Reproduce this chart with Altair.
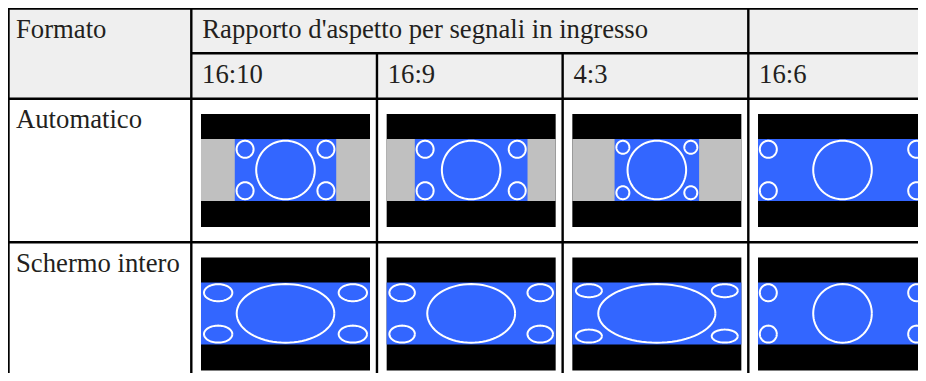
import altair as alt
import numpy as np
import pandas as pd

# ---------------- data ----------------
row_header = "Formato"
group_header = "Rapporto d'aspetto per segnali in ingresso"
formats = ["Automatico", "Schermo intero"]
aspect_labels = ["16:10", "16:9", "4:3", "16:6"]
aspect_num = [16, 16, 4, 16]
aspect_den = [10, 9, 3, 6]
corner_outer = [9.5, 9.5, 7.5, 9.5]   # corner-circle radius in the source picture

# ---------------- layout ----------------
X0, X1 = 8, 918
Y0, Y1 = 8, 373
LINE_W = 2.4
OUT_L = 8.5
OUT_T = 8.5
COL_LINE_0 = 191.3
COL_STEP = 185.67
HEAD1_Y = 53.3
HEAD2_Y = 98.8
ROW_LINE_Y = 242.2
FRAME_W = 169
FRAME_H = 113
BAND_H = 25
PIC_H = 62
PIC_UNIT = 63.4
BIG_R = 29.3
STROKE = 2
FONT = "Liberation Serif"
FS = 26.7
TXT = "#231f20"
HEAD_BG = "#efefef"
GREY = "#c0c0c0"
BLUE = "#3366ff"

col_lines = [COL_LINE_0 + i * COL_STEP for i in range(len(aspect_labels))]
row_tops = [HEAD2_Y, ROW_LINE_Y]

# ---------------- build tables ----------------
frames, greys, blues, ell = [], [], [], []
eid = 0
for r, fmt in enumerate(formats):
    fy = row_tops[r] + 15.2
    py0 = fy + BAND_H
    py1 = py0 + PIC_H
    for c, lab in enumerate(aspect_labels):
        fx = col_lines[c] + 9.7
        frames.append(dict(x=fx, x2=fx + FRAME_W, y=fy, y2=fy + FRAME_H))
        pw = min(PIC_UNIT * aspect_num[c] / aspect_den[c], FRAME_W)
        if r == 0:
            left = fx + (FRAME_W - pw) / 2
            sx = 1.0
            greys.append(dict(x=fx, x2=fx + FRAME_W, y=py0, y2=py1))
        else:
            left = fx
            sx = FRAME_W / pw
        blues.append(dict(x=left, x2=left + pw * sx, y=py0, y2=py1))
        cr = corner_outer[c] - STROKE / 2
        off = corner_outer[c] + 0.8
        circles = [(pw / 2, PIC_H / 2, BIG_R),
                   (off, off, cr), (pw - off, off, cr),
                   (off, PIC_H - off, cr), (pw - off, PIC_H - off, cr)]
        for (cx, cy, rr) in circles:
            t = np.linspace(0, 2 * np.pi, 73)
            for i, tt in enumerate(t):
                ell.append(dict(id=eid, i=i,
                                x=left + cx * sx + rr * sx * np.cos(tt),
                                y=py0 + cy + rr * np.sin(tt)))
            eid += 1

header_bg = pd.DataFrame([dict(x=X0, x2=X1, y=Y0, y2=HEAD2_Y)])

rules = [
    dict(x=X0 - 1, x2=X1 + 8, y=OUT_T, y2=OUT_T),
    dict(x=OUT_L, x2=OUT_L, y=Y0 - 1, y2=Y1 + 8),
    dict(x=col_lines[0], x2=X1 + 8, y=HEAD1_Y, y2=HEAD1_Y),
    dict(x=X0 - 1, x2=X1 + 8, y=HEAD2_Y, y2=HEAD2_Y),
    dict(x=X0 - 1, x2=X1 + 8, y=ROW_LINE_Y, y2=ROW_LINE_Y),
    dict(x=col_lines[0], x2=col_lines[0], y=Y0 - 1, y2=Y1 + 8),
    dict(x=col_lines[1], x2=col_lines[1], y=HEAD1_Y, y2=Y1 + 8),
    dict(x=col_lines[2], x2=col_lines[2], y=HEAD1_Y, y2=Y1 + 8),
    dict(x=col_lines[3], x2=col_lines[3], y=Y0 - 1, y2=Y1 + 8),
]

texts = [dict(label=row_header, x=16, y=37.7),
         dict(label=group_header, x=col_lines[0] + 11, y=38.0)]
for c, lab in enumerate(aspect_labels):
    texts.append(dict(label=lab, x=col_lines[c] + 10.8, y=82.7))
for r, fmt in enumerate(formats):
    texts.append(dict(label=fmt, x=16, y=row_tops[r] + 29.3))

# ---------------- encodings ----------------
xs = alt.Scale(domain=[X0, X1], nice=False, zero=False)
ys = alt.Scale(domain=[Y0, Y1], nice=False, zero=False, reverse=True)


def rect_layer(df, color):
    return alt.Chart(pd.DataFrame(df)).mark_rect(color=color, strokeWidth=0).encode(
        x=alt.X("x:Q", scale=xs, axis=None), x2="x2:Q",
        y=alt.Y("y:Q", scale=ys, axis=None), y2="y2:Q")


bg = rect_layer(header_bg, HEAD_BG)
fr = rect_layer(frames, "#000000")
gr = rect_layer(greys, GREY)
bl = rect_layer(blues, BLUE)

el = alt.Chart(pd.DataFrame(ell)).mark_line(color="#ffffff", strokeWidth=STROKE).encode(
    x=alt.X("x:Q", scale=xs, axis=None),
    y=alt.Y("y:Q", scale=ys, axis=None),
    detail="id:N", order="i:Q")

ru = alt.Chart(pd.DataFrame(rules)).mark_rule(color="#000000", strokeWidth=LINE_W).encode(
    x=alt.X("x:Q", scale=xs, axis=None), x2="x2:Q",
    y=alt.Y("y:Q", scale=ys, axis=None), y2="y2:Q")

tx = alt.Chart(pd.DataFrame(texts)).mark_text(
    align="left", baseline="alphabetic", font=FONT, fontSize=FS, color=TXT).encode(
    x=alt.X("x:Q", scale=xs, axis=None),
    y=alt.Y("y:Q", scale=ys, axis=None),
    text="label:N")

chart = alt.layer(bg, fr, gr, bl, el, ru, tx).properties(
    width=X1 - X0, height=Y1 - Y0, padding=0,
    autosize=alt.AutoSizeParams(type="none"),
    background="#ffffff",
).configure_view(strokeWidth=0)

chart.save("out.html", embed_options={"renderer": "svg", "actions": False})
